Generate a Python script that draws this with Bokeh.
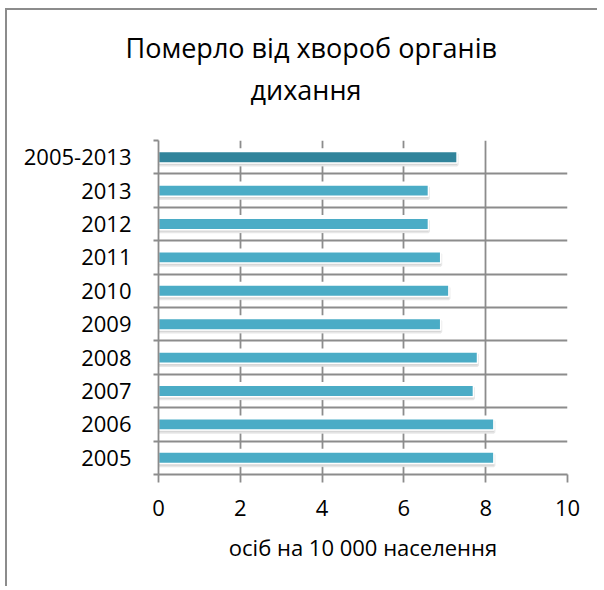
from bokeh.plotting import figure
from bokeh.models import (FactorRange, Range1d, LinearAxis, CategoricalAxis,
                          FixedTicker, Grid, Title, ColumnDataSource)
from bokeh.transform import dodge
from bokeh.embed import file_html
from bokeh.resources import INLINE

periods = ["2005", "2006", "2007", "2008", "2009", "2010", "2011", "2012", "2013", "2005-2013"]
deaths = [8.2, 8.2, 7.7, 7.8, 6.9, 7.1, 6.9, 6.6, 6.6, 7.3]
bar_colors = ["#4BACC6"] * 9 + ["#31849B"]
x_ticks = [0, 2, 4, 6, 8, 10]
title_lines = ["Померло від хвороб органів", "дихання"]
x_label = "осіб на 10 000 населення"

FONT = "Open Sans"
GRID = "#8c8c8c"
W, H = 592, 578

src = ColumnDataSource(dict(period=periods, value=deaths, color=bar_colors))

p = figure(width=W, height=H,
           y_range=FactorRange(factors=periods), x_range=Range1d(0, 10),
           output_backend="svg", toolbar_location=None,
           x_axis_location=None, y_axis_location=None,
           min_border_left=151, min_border_right=32,
           min_border_top=130, min_border_bottom=114,
           styles={"margin-left": "5px", "margin-top": "8px",
                   "border-left": "2px solid #8c8c8c", "border-top": "2px solid #8c8c8c"})
p.outline_line_color = None
p.background_fill_color = "white"
p.border_fill_color = "white"

# drop the default grids (they sit at category centres); add boundary grids
p.center = [r for r in p.center if not isinstance(r, Grid)]

# category boundaries in the factor range's synthetic coordinates
bounds = list(range(len(periods) + 1))

p.add_layout(Grid(dimension=0, ticker=FixedTicker(ticks=x_ticks),
                  grid_line_color=GRID, grid_line_width=1.8))
p.add_layout(Grid(dimension=1, ticker=FixedTicker(ticks=bounds),
                  grid_line_color=GRID, grid_line_width=1.8))

# bars: white glow, soft shadow, coloured bar
p.hbar(y="period", right="value", left=0, height=0.33, source=src,
       fill_color="white", line_color="white", line_width=7)
p.hbar(y=dodge("period", -0.07, range=p.y_range), right="value", left=0, height=0.33,
       source=src, fill_color="#c4c4c4", fill_alpha=0.6,
       line_color="#d0d0d0", line_alpha=0.5, line_width=3)
p.hbar(y="period", right="value", left=0, height=0.34, source=src,
       fill_color="color", line_color="white", line_width=1.5)

# axes: boundary tick marks (no labels), category labels, value axis
bound_axis = LinearAxis(ticker=FixedTicker(ticks=bounds),
                        major_tick_out=5, major_tick_in=0,
                        minor_tick_line_color=None,
                        major_label_text_font_size="0px", major_label_text_color=None,
                        major_label_standoff=0,
                        axis_line_color=GRID, axis_line_width=1.8,
                        major_tick_line_color=GRID, major_tick_line_width=1.8)
p.add_layout(bound_axis, "left")

cat_axis = CategoricalAxis(major_tick_out=0, major_tick_in=0, major_tick_line_color=None,
                           axis_line_color=None, major_label_standoff=22,
                           major_label_text_font=FONT, major_label_text_font_size="22px",
                           major_label_text_color="black")
p.add_layout(cat_axis, "left")

x_axis = LinearAxis(ticker=FixedTicker(ticks=x_ticks), major_tick_out=8, major_tick_in=0,
                    minor_tick_line_color=None,
                    axis_line_color=GRID, axis_line_width=1.8,
                    major_tick_line_color=GRID, major_tick_line_width=1.8,
                    major_label_standoff=17,
                    major_label_text_font=FONT, major_label_text_font_size="22px",
                    major_label_text_color="black",
                    axis_label=x_label, axis_label_standoff=13,
                    axis_label_text_font=FONT, axis_label_text_font_size="22px",
                    axis_label_text_font_style="normal", axis_label_text_color="black")
p.add_layout(x_axis, "below")

# spacer between the frame and the two-line title, then the title lines
p.add_layout(Title(text=" ", text_font_size="1px", text_color="white", standoff=28), "above")
p.add_layout(Title(text=title_lines[1], align="left", offset=92,
                   text_font=FONT, text_font_size="27px",
                   text_font_style="normal", text_color="black",
                   standoff=3), "above")
p.add_layout(Title(text=title_lines[0], align="left", offset=-33,
                   text_font=FONT, text_font_size="27px",
                   text_font_style="normal", text_color="black",
                   standoff=3), "above")

open("out.html", "w").write(file_html(p, INLINE))
